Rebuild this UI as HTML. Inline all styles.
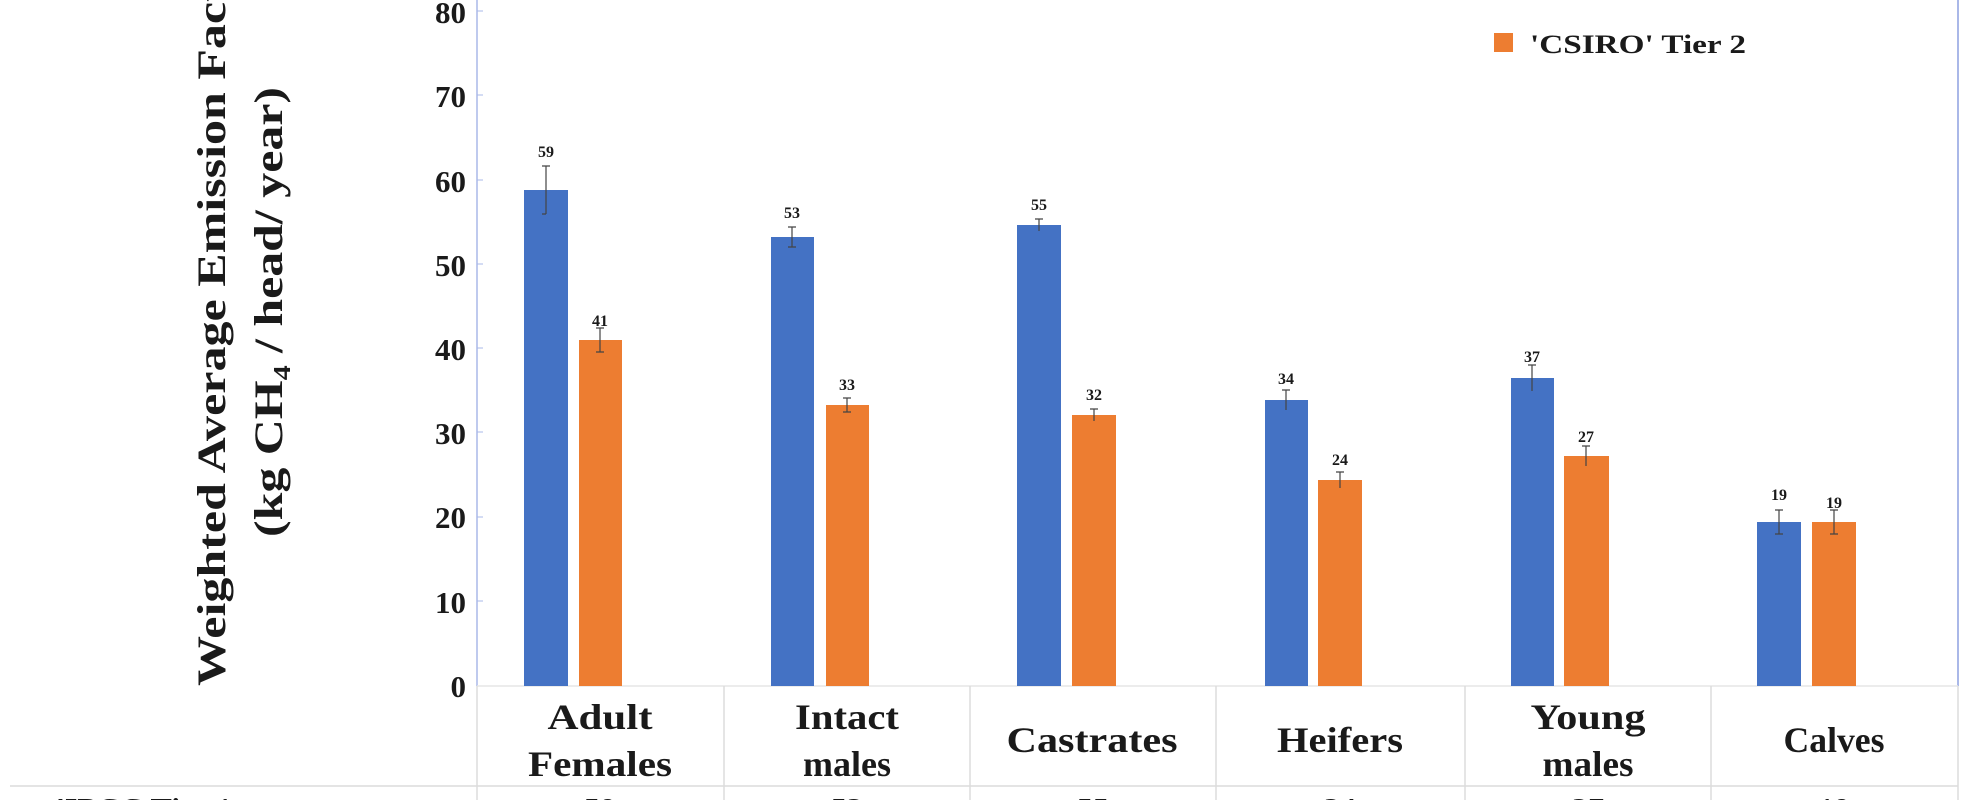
<!DOCTYPE html>
<html><head><meta charset="utf-8"><style>
html,body{margin:0;padding:0;background:#fff;}
svg{display:block;font-family:"Liberation Serif",serif;font-weight:bold;}
</style></head><body>
<svg width="1980" height="800" viewBox="0 0 1980 800" xmlns="http://www.w3.org/2000/svg">
<rect width="1980" height="800" fill="#fff"/>
<line x1="477" y1="0" x2="477" y2="686" stroke="#aab8e8" stroke-width="1.5"/>
<line x1="1958" y1="0" x2="1958" y2="686" stroke="#aab8e8" stroke-width="2"/>
<line x1="477" y1="686" x2="1958" y2="686" stroke="#e6e6e6" stroke-width="1.5"/>
<g stroke="#dcdcdc" stroke-width="1.5">
<line x1="477" y1="686" x2="477" y2="800"/>
<line x1="724" y1="686" x2="724" y2="800"/>
<line x1="970" y1="686" x2="970" y2="800"/>
<line x1="1216" y1="686" x2="1216" y2="800"/>
<line x1="1465" y1="686" x2="1465" y2="800"/>
<line x1="1711" y1="686" x2="1711" y2="800"/>
<line x1="1958" y1="686" x2="1958" y2="800"/>
<line x1="10" y1="786" x2="1958" y2="786"/>
</g>
<g font-size="31" text-anchor="end" fill="#1a1a1a">
<text x="466" y="697">0</text>
<text x="466" y="613">10</text>
<text x="466" y="528">20</text>
<text x="466" y="444">30</text>
<text x="466" y="360">40</text>
<text x="466" y="276">50</text>
<text x="466" y="192">60</text>
<text x="466" y="107">70</text>
<text x="466" y="23">80</text>
</g>
<g stroke="#aab8e8" stroke-width="1">
<line x1="477" y1="601" x2="483" y2="601"/><line x1="477" y1="517" x2="483" y2="517"/>
<line x1="477" y1="432" x2="483" y2="432"/><line x1="477" y1="348" x2="483" y2="348"/>
<line x1="477" y1="264" x2="483" y2="264"/><line x1="477" y1="180" x2="483" y2="180"/>
<line x1="477" y1="95" x2="483" y2="95"/><line x1="477" y1="11" x2="483" y2="11"/>
</g>
<g font-size="40" fill="#1a1a1a" text-anchor="middle">
<text transform="translate(225,312) rotate(-90)" textLength="748" lengthAdjust="spacingAndGlyphs">Weighted Average Emission Factor</text>
<text transform="translate(282,312) rotate(-90)" textLength="450" lengthAdjust="spacingAndGlyphs">(kg CH₄ / head/ year)</text>
</g>
<rect x="1494" y="33" width="19" height="19" fill="#ED7D31"/>
<text x="1530" y="53" font-size="26" fill="#1a1a1a" textLength="216" lengthAdjust="spacingAndGlyphs">'CSIRO' Tier 2</text>
<g>
<rect x="524" y="190" width="44" height="496" fill="#4472C4"/>
<rect x="579" y="340" width="43" height="346" fill="#ED7D31"/>
<rect x="771" y="237" width="43" height="449" fill="#4472C4"/>
<rect x="826" y="405" width="43" height="281" fill="#ED7D31"/>
<rect x="1017" y="225" width="44" height="461" fill="#4472C4"/>
<rect x="1072" y="415" width="44" height="271" fill="#ED7D31"/>
<rect x="1265" y="400" width="43" height="286" fill="#4472C4"/>
<rect x="1318" y="480" width="44" height="206" fill="#ED7D31"/>
<rect x="1511" y="378" width="43" height="308" fill="#4472C4"/>
<rect x="1564" y="456" width="45" height="230" fill="#ED7D31"/>
<rect x="1757" y="522" width="44" height="164" fill="#4472C4"/>
<rect x="1812" y="522" width="44" height="164" fill="#ED7D31"/>
</g>
<g stroke="#444" stroke-width="1.2">
<path d="M546 166V214M542 166H550M542 214H546"/>
<path d="M600 328V352M596 328H604M596 352H604"/>
<path d="M792 227V247M788 227H796M788 247H796"/>
<path d="M847 398V412M843 398H851M843 412H851"/>
<path d="M1039 219V231M1035 219H1043"/>
<path d="M1094 409V421M1090 409H1098"/>
<path d="M1286 390V410M1282 390H1290"/>
<path d="M1340 472V488M1336 472H1344"/>
<path d="M1532 365V391M1528 365H1536"/>
<path d="M1586 446V466M1582 446H1590"/>
<path d="M1779 510V534M1775 510H1783M1775 534H1783"/>
<path d="M1834 510V534M1830 510H1838M1830 534H1838"/>
</g>
<g font-size="16" text-anchor="middle" fill="#1a1a1a">
<text x="546" y="157">59</text>
<text x="600" y="326">41</text>
<text x="792" y="218">53</text>
<text x="847" y="390">33</text>
<text x="1039" y="210">55</text>
<text x="1094" y="400">32</text>
<text x="1286" y="384">34</text>
<text x="1340" y="465">24</text>
<text x="1532" y="362">37</text>
<text x="1586" y="442">27</text>
<text x="1779" y="500">19</text>
<text x="1834" y="508">19</text>
</g>
<g font-size="36" text-anchor="middle" fill="#1a1a1a" lengthAdjust="spacingAndGlyphs">
<text x="600" y="729" textLength="105" lengthAdjust="spacingAndGlyphs">Adult</text>
<text x="600" y="776" textLength="144" lengthAdjust="spacingAndGlyphs">Females</text>
<text x="847" y="729" textLength="104" lengthAdjust="spacingAndGlyphs">Intact</text>
<text x="847" y="776" textLength="88" lengthAdjust="spacingAndGlyphs">males</text>
<text x="1092" y="752" textLength="171" lengthAdjust="spacingAndGlyphs">Castrates</text>
<text x="1340" y="752" textLength="126" lengthAdjust="spacingAndGlyphs">Heifers</text>
<text x="1588" y="729" textLength="115" lengthAdjust="spacingAndGlyphs">Young</text>
<text x="1588" y="776" textLength="91" lengthAdjust="spacingAndGlyphs">males</text>
<text x="1834" y="752" textLength="101" lengthAdjust="spacingAndGlyphs">Calves</text>
</g>
<g font-size="32" fill="#1a1a1a">
<text x="56" y="820">'IPCC Tier 1</text>
<g text-anchor="middle"><text x="600" y="820">59</text><text x="847" y="820">53</text><text x="1093" y="820">55</text><text x="1340" y="820">34</text><text x="1588" y="820">37</text><text x="1834" y="820">19</text></g>
</g>
</svg>
</body></html>
